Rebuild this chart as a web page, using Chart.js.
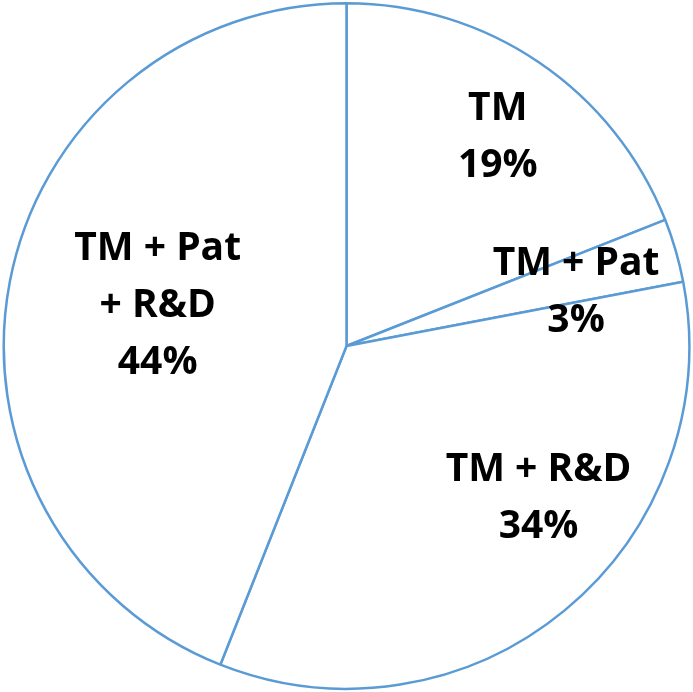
<!DOCTYPE html>
<html>
<head>
<meta charset="utf-8">
<script src="https://cdn.jsdelivr.net/npm/chart.js@4/dist/chart.umd.min.js"></script>
<style>
  html, body { margin: 0; padding: 0; background: #fff; }
  #wrap { width: 693px; height: 692px; }
</style>
</head>
<body>
<div id="wrap"><canvas id="pie" width="693" height="692"></canvas></div>
<script>
// slices, clockwise from 12 o'clock
const categories = [["TM"], ["TM + Pat"], ["TM + R&D"], ["TM + Pat", "+ R&D"]];
const shares = [19, 3, 34, 44];

// where each label sits: angle shift from slice middle (deg) and fraction of radius
const labelShift = [1.3, 2.3, -12.5, 2];
const labelDist = [0.76, 0.69, 0.71, 0.565];

const sliceLabels = {
    id: "sliceLabels",
    afterDatasetsDraw(chart) {
        const ctx = chart.ctx;
        const meta = chart.getDatasetMeta(0);
        ctx.save();
        ctx.font = "bold 39px 'Open Sans'";
        ctx.fillStyle = "#000";
        ctx.textAlign = "center";
        ctx.textBaseline = "middle";
        meta.data.forEach((arc, i) => {
            const mid = (arc.startAngle + arc.endAngle) / 2 + labelShift[i] * Math.PI / 180;
            const r = arc.outerRadius * labelDist[i];
            const x = arc.x + Math.cos(mid) * r;
            const y = arc.y + Math.sin(mid) * r + 3;
            const lines = categories[i].concat([shares[i] + "%"]);
            const lh = 57;
            const top = y - (lines.length - 1) * lh / 2;
            lines.forEach((t, k) => ctx.fillText(t, x, top + k * lh));
        });
        ctx.restore();
    },
};

new Chart(document.getElementById("pie"), {
    type: "pie",
    data: {
        labels: categories.map((c) => c.join(" ")),
        datasets: [{
            data: shares,
            backgroundColor: "#ffffff",
            borderColor: "#5b9bd5",
            borderWidth: 2.5,
            hoverOffset: 0,
        }],
    },
    options: {
        responsive: false,
        animation: false,
        events: [],
        layout: { padding: 2 },
        plugins: {
            legend: { display: false },
            tooltip: { enabled: false },
        },
    },
    plugins: [sliceLabels],
});
</script>
</body>
</html>
